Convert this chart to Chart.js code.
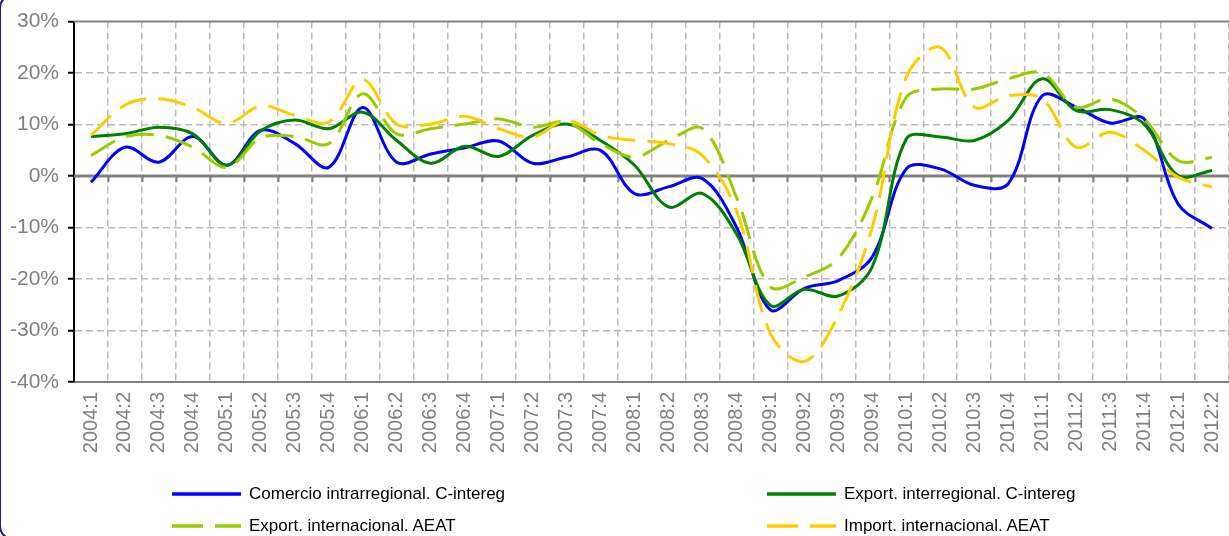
<!DOCTYPE html>
<html>
<head>
<meta charset="utf-8">
<script src="https://cdn.jsdelivr.net/npm/chart.js@4"></script>
<style>
body{margin:0;background:#fff;overflow:hidden}
#wrap{position:relative;width:1229px;height:536px;overflow:hidden}
#frame{position:absolute;left:-1px;top:-6px;width:1260px;height:546px;border:2px solid #1c1c8c;border-radius:14px;box-sizing:border-box;pointer-events:none}
.leg{position:absolute;height:20px;display:flex;align-items:center;font:17px 'Liberation Sans',Arial,sans-serif;color:#000;white-space:nowrap}
.leg svg{margin-right:8px}
</style>
</head>
<body>
<div id="wrap">
  <canvas id="chart" width="1246" height="536"></canvas>
  <div id="legend"></div>
  <div id="frame"></div>
</div>
<script>
const labels = ['2004:1','2004:2','2004:3','2004:4','2005:1','2005:2','2005:3','2005:4',
  '2006:1','2006:2','2006:3','2006:4','2007:1','2007:2','2007:3','2007:4',
  '2008:1','2008:2','2008:3','2008:4','2009:1','2009:2','2009:3','2009:4',
  '2010:1','2010:2','2010:3','2010:4','2011:1','2011:2','2011:3','2011:4',
  '2012:1','2012:2']

const comercioIntra = [-1.2, 5.6, 2.7, 7.7, 2.1, 8.9, 6.3, 1.7, 13.3, 2.7, 4.3, 5.5,
  6.8, 2.5, 3.7, 5.0, -3.4, -2.1, -0.5, -9.9, -26.0, -21.8, -20.3, -15.7,
  1.4, 1.4, -1.8, -1.5, 15.6, 13.4, 10.3, 11.1, -5.4, -10.2]
const exportInter = [7.7, 8.2, 9.5, 8.2, 2.1, 8.8, 10.9, 9.2, 12.4, 6.9, 2.5, 5.8,
  3.8, 7.9, 10.1, 6.9, 2.1, -6.0, -3.4, -11.2, -25.1, -22.0, -23.3, -17.6,
  7.2, 7.6, 6.9, 10.8, 18.9, 12.7, 12.9, 10.1, 0.1, 1.1]
const exportIntl = [4.0, 7.6, 7.9, 5.6, 1.7, 7.4, 7.7, 6.3, 16.0, 8.2, 9.2, 10.1,
  11.1, 9.5, 10.5, 6.3, 3.7, 6.9, 9.2, -4.1, -21.5, -19.6, -16.0, -4.1,
  15.3, 16.9, 16.9, 18.9, 20.0, 13.4, 15.0, 11.1, 3.0, 3.6]
const importIntl = [7.9, 13.8, 15.0, 13.3, 10.2, 13.6, 11.8, 10.5, 18.7, 10.1, 10.1, 11.6,
  9.2, 7.6, 10.8, 7.9, 6.9, 6.3, 4.0, -6.7, -30.6, -36.0, -27.0, -9.9,
  19.2, 25.0, 13.4, 15.6, 15.0, 5.6, 8.5, 5.0, -0.2, -2.1]

const seriesNames = ['Comercio intrarregional. C-intereg', 'Export. interregional. C-intereg',
  'Export. internacional. AEAT', 'Import. internacional. AEAT']
const seriesColors = ['#0000ff', '#008000', '#99cc00', '#ffcc00']
const yTicks = [-40, -30, -20, -10, 0, 10, 20, 30]

const dash = [28, 12]
const font = "'Liberation Sans', Arial, sans-serif"

// solid top line, zero axis and its tick marks
const axisLines = {
  id: 'axisLines',
  beforeDatasetsDraw(chart) {
    const {ctx, chartArea, scales: {x, y}} = chart
    ctx.save()
    ctx.strokeStyle = '#808080'
    ctx.lineWidth = 2
    const yt = y.getPixelForValue(yTicks[yTicks.length - 1])
    ctx.beginPath()
    ctx.moveTo(chartArea.left, yt)
    ctx.lineTo(chartArea.right, yt)
    ctx.stroke()
    const y0 = y.getPixelForValue(0)
    ctx.lineWidth = 2
    ctx.beginPath()
    for (let i = 1; i < labels.length; i++) {
      const bx = Math.round((x.getPixelForValue(i - 1) + x.getPixelForValue(i)) / 2) + 0.5
      ctx.moveTo(bx, y0)
      ctx.lineTo(bx, y0 + 6)
    }
    ctx.stroke()
    ctx.lineWidth = 3
    ctx.beginPath()
    ctx.moveTo(chartArea.left, y0)
    ctx.lineTo(chartArea.right, y0)
    ctx.stroke()
    ctx.restore()
  }
}

const data = {
  labels: labels,
  datasets: [
    {label: seriesNames[0], data: comercioIntra, borderColor: seriesColors[0], order: 4},
    {label: seriesNames[1], data: exportInter, borderColor: seriesColors[1], order: 3},
    {label: seriesNames[2], data: exportIntl, borderColor: seriesColors[2], borderDash: dash, order: 2},
    {label: seriesNames[3], data: importIntl, borderColor: seriesColors[3], borderDash: dash, order: 1}
  ]
}

new Chart(document.getElementById('chart'), {
  type: 'line',
  data: data,
  options: {
    responsive: false,
    animation: false,
    layout: {padding: {top: 21, left: 0, right: 0, bottom: 0}},
    elements: {
      line: {borderWidth: 3, tension: 0.35, fill: false, borderCapStyle: 'butt'},
      point: {radius: 0}
    },
    plugins: {legend: {display: false}, tooltip: {enabled: false}},
    scales: {
      x: {
        offset: true,
        grid: {offset: true, color: '#bbbbbb', lineWidth: 1.5, drawTicks: false},
        border: {display: true, color: '#808080', width: 2, dash: [7, 4]},
        ticks: {
          autoSkip: false, minRotation: 90, maxRotation: 90, padding: 10,
          color: '#808080', font: {family: font, size: 20}
        },
        afterFit: (scale) => { scale.height = 154 }
      },
      y: {
        min: -40, max: 30,
        afterBuildTicks: (scale) => { scale.ticks = yTicks.map(v => ({value: v})) },
        grid: {
          color: (c) => (c.tick && (c.tick.value === 30 || c.tick.value === 0 || c.tick.value === -40)) ? 'rgba(0,0,0,0)' : '#bbbbbb',
          lineWidth: 1.5, tickColor: '#000', tickLength: 6, tickWidth: 2, tickBorderDash: []
        },
        border: {display: true, color: '#000', width: 2, dash: [7, 4]},
        ticks: {
          padding: 9, color: '#808080', font: {family: font, size: 21},
          callback: (v) => v + '%'
        },
        afterFit: (scale) => { scale.width = 74 }
      }
    }
  },
  plugins: [axisLines]
})

// legend in two columns, like the original
const legPos = [[172, 484], [767, 484], [172, 516], [767, 516]]
const dashed = [false, false, true, true]
const legend = document.getElementById('legend')
seriesNames.forEach((name, i) => {
  const d = document.createElement('div')
  d.className = 'leg'
  d.style.left = legPos[i][0] + 'px'
  d.style.top = legPos[i][1] + 'px'
  const da = dashed[i] ? ' stroke-dasharray="31 12"' : ''
  d.innerHTML = '<svg width="69" height="6"><line x1="0" y1="3" x2="69" y2="3" stroke="' +
    seriesColors[i] + '" stroke-width="3.5"' + da + '/></svg><span>' + name + '</span>'
  legend.appendChild(d)
})
</script>
</body>
</html>
